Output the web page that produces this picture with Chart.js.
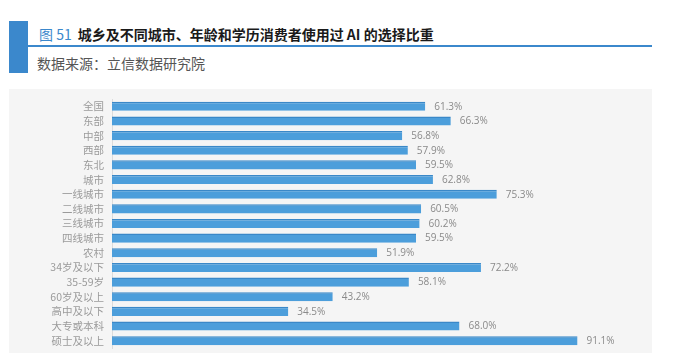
<!DOCTYPE html>
<html>
<head>
<meta charset="utf-8">
<script src="https://cdn.jsdelivr.net/npm/chart.js@4/dist/chart.umd.min.js"></script>
<style>
  body { margin: 0; width: 678px; height: 360px; background: #fff; position: relative; font-family: "Noto Sans CJK SC", sans-serif; overflow: hidden; }
  .block { position: absolute; left: 9px; top: 21px; width: 19px; height: 52px; background: #3b88cc; }
  .rule { position: absolute; left: 28px; top: 45px; width: 624px; height: 2px; background: #3b88cc; }
  .title { position: absolute; left: 39px; top: 24px; font-size: 14px; line-height: 20px; color: #1a1a1a; font-weight: bold; white-space: nowrap; }
  .title .num { color: #3b88cc; font-weight: normal; margin-right: 6px; }
  .source { position: absolute; left: 37px; top: 53px; font-size: 14px; line-height: 20px; color: #555; }
  .panel { position: absolute; left: 9px; top: 89px; width: 643px; height: 264px; background: #f5f5f5; }
</style>
</head>
<body>
<div class="block"></div>
<div class="title"><span class="num">图 51</span>城乡及不同城市、年龄和学历消费者使用过 AI 的选择比重</div>
<div class="rule"></div>
<div class="source">数据来源：立信数据研究院</div>
<div class="panel"><canvas id="aiChart" width="643" height="264"></canvas></div>
<script>
// 类别和数值（%）
const categories = ['全国', '东部', '中部', '西部', '东北', '城市', '一线城市', '二线城市', '三线城市', '四线城市',
    '农村', '34岁及以下', '35-59岁', '60岁及以上', '高中及以下', '大专或本科', '硕士及以上'];
const shares = [61.3, 66.3, 56.8, 57.9, 59.5, 62.8, 75.3, 60.5, 60.2, 59.5, 51.9, 72.2, 58.1, 43.2, 34.5, 68.0, 91.1];

// 在柱子右侧写数值
const valueLabels = {
    id: 'valueLabels',
    afterDatasetsDraw(chart) {
        const ctx = chart.ctx;
        const meta = chart.getDatasetMeta(0);
        ctx.save();
        ctx.font = '10px "Open Sans", sans-serif';
        ctx.fillStyle = '#8a8a8a';
        ctx.textBaseline = 'middle';
        meta.data.forEach((bar, i) => {
            ctx.fillText(shares[i].toFixed(1) + '%', bar.x + 9, bar.y + 0.5);
        });
        ctx.restore();
    }
};

const ctx = document.getElementById('aiChart').getContext('2d');
new Chart(ctx, {
    type: 'bar',
    data: {
        labels: categories,
        datasets: [{
            data: shares,
            backgroundColor: '#4c9edb',
            borderColor: '#3a88c8',
            borderWidth: { top: 1.5, bottom: 0, left: 0, right: 0 },
            borderSkipped: false,
            barPercentage: 0.62,
            categoryPercentage: 1
        }]
    },
    options: {
        indexAxis: 'y',
        responsive: false,
        animation: false,
        layout: { padding: { top: 10, bottom: 5, right: 29, left: 0 } },
        plugins: {
            legend: { display: false },
            tooltip: { enabled: false }
        },
        scales: {
            x: {
                display: false,
                min: 0,
                max: 100
            },
            y: {
                afterFit: (scale) => {
                    scale.width = 103;
                    scale.paddingTop = 0;
                    scale.paddingBottom = 0;
                },
                grid: { color: 'rgba(0,0,0,0)', drawTicks: false },
                border: { display: true, color: '#dcdcdc', width: 1 },
                ticks: {
                    autoSkip: false,
                    padding: 8,
                    color: '#9a9a9a',
                    font: { family: '"Noto Sans CJK SC", sans-serif', size: 10.5 }
                }
            }
        }
    },
    plugins: [valueLabels]
});
</script>
</body>
</html>
